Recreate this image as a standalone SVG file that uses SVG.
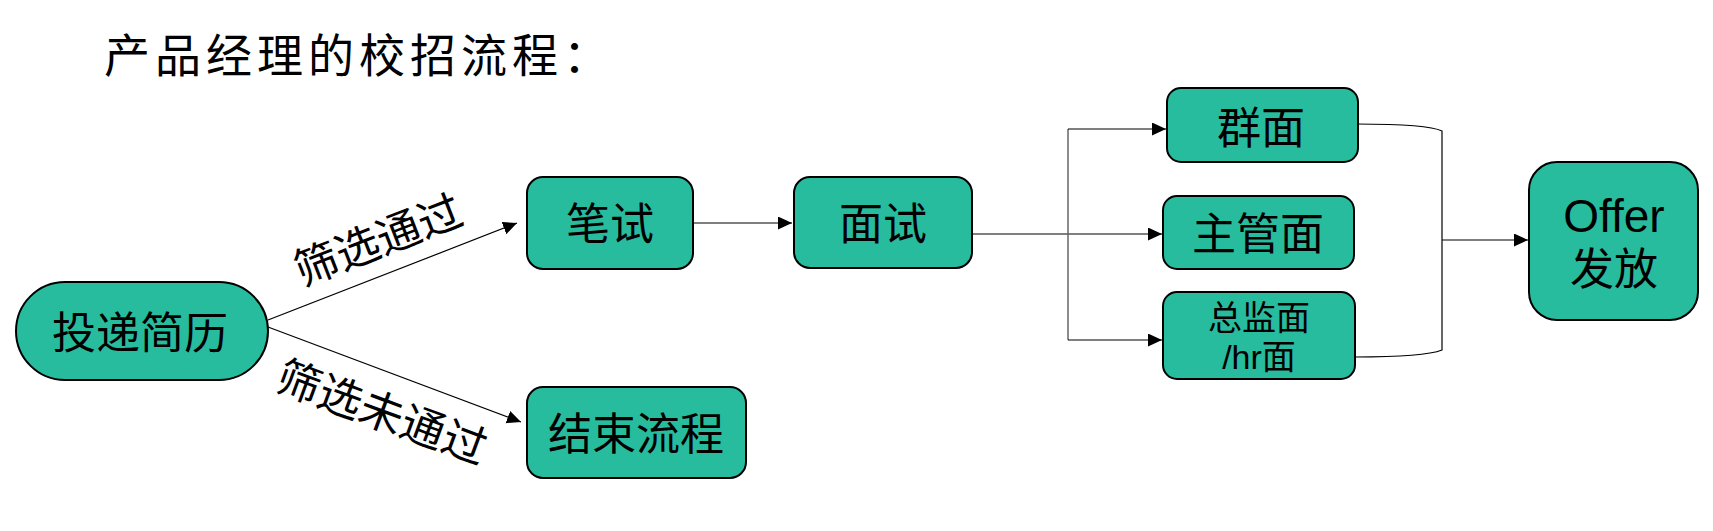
<svg xmlns="http://www.w3.org/2000/svg" width="1713" height="531" viewBox="0 0 1713 531">
<style>
  text { font-family: "Liberation Sans", "Noto Sans CJK SC", sans-serif; fill: #000; }
  .node { fill: #28BC9E; stroke: #000; stroke-width: 2; }
  .lbl { font-size: 44px; text-anchor: middle; }
  .small { font-size: 34px; text-anchor: middle; }
  .edge { font-size: 44px; text-anchor: middle; }
  .conn { fill: none; stroke: #000; stroke-width: 1.2; }
  .arr { marker-end: url(#ah); }
</style>
<defs>
  <marker id="ah" markerUnits="userSpaceOnUse" markerWidth="15" markerHeight="14" refX="14" refY="6.5" orient="auto">
    <path d="M0,0 L14,6.5 L0,13 Z" fill="#000"/>
  </marker>
</defs>
<rect width="1713" height="531" fill="#fff"/>
<text id="title" x="104" y="72" style="font-size:46px; letter-spacing:5px">产品经理的校招流程：</text>

<g id="connectors">
  <line class="conn arr" x1="268" y1="320" x2="517" y2="223"/>
  <line class="conn arr" x1="268" y1="327" x2="521" y2="422"/>
  <line class="conn arr" x1="693" y1="223" x2="792" y2="223"/>
  <line class="conn arr" x1="972" y1="234" x2="1162" y2="234"/>
  <path class="conn" d="M1068,129 V340" style="stroke:#666;stroke-width:1.5"/>
  <line class="conn arr" x1="1068" y1="129" x2="1166" y2="129"/>
  <line class="conn arr" x1="1068" y1="340" x2="1162" y2="340"/>
  <path class="conn" d="M1357,124 C1400,124 1432,126 1442,131 V350 C1432,354 1400,357 1355,357"/>
  <line class="conn arr" x1="1442" y1="240" x2="1528" y2="240"/>
  <text class="edge" transform="translate(378,240) rotate(-21.2)" x="0" y="16">筛选通过</text>
  <text class="edge" transform="translate(382,412) rotate(20.2)" x="0" y="16">筛选未通过</text>
</g>

<g id="n-resume">
  <rect class="node" x="16" y="282" width="252" height="98" rx="49"/>
  <text class="lbl" x="140" y="349">投递简历</text>
</g>
<g id="n-written">
  <rect class="node" x="527" y="177" width="166" height="92" rx="16"/>
  <text class="lbl" x="610" y="240">笔试</text>
</g>
<g id="n-interview">
  <rect class="node" x="794" y="177" width="178" height="91" rx="16"/>
  <text class="lbl" x="883" y="240">面试</text>
</g>
<g id="n-end">
  <rect class="node" x="527" y="387" width="219" height="91" rx="16"/>
  <text class="lbl" x="636" y="450">结束流程</text>
</g>
<g id="n-group">
  <rect class="node" x="1167" y="88" width="191" height="74" rx="14"/>
  <text class="lbl" x="1261" y="144">群面</text>
</g>
<g id="n-manager">
  <rect class="node" x="1163" y="196" width="191" height="73" rx="14"/>
  <text class="lbl" x="1258" y="250">主管面</text>
</g>
<g id="n-director">
  <rect class="node" x="1163" y="292" width="192" height="87" rx="14"/>
  <text class="small" x="1259" y="330">总监面</text>
  <text class="small" x="1259" y="369">/hr面</text>
</g>
<g id="n-offer">
  <rect class="node" x="1529" y="162" width="169" height="158" rx="28"/>
  <text x="1614" y="232" style="font-size:46px; text-anchor:middle">Offer</text>
  <text class="lbl" x="1614" y="285">发放</text>
</g>
</svg>
